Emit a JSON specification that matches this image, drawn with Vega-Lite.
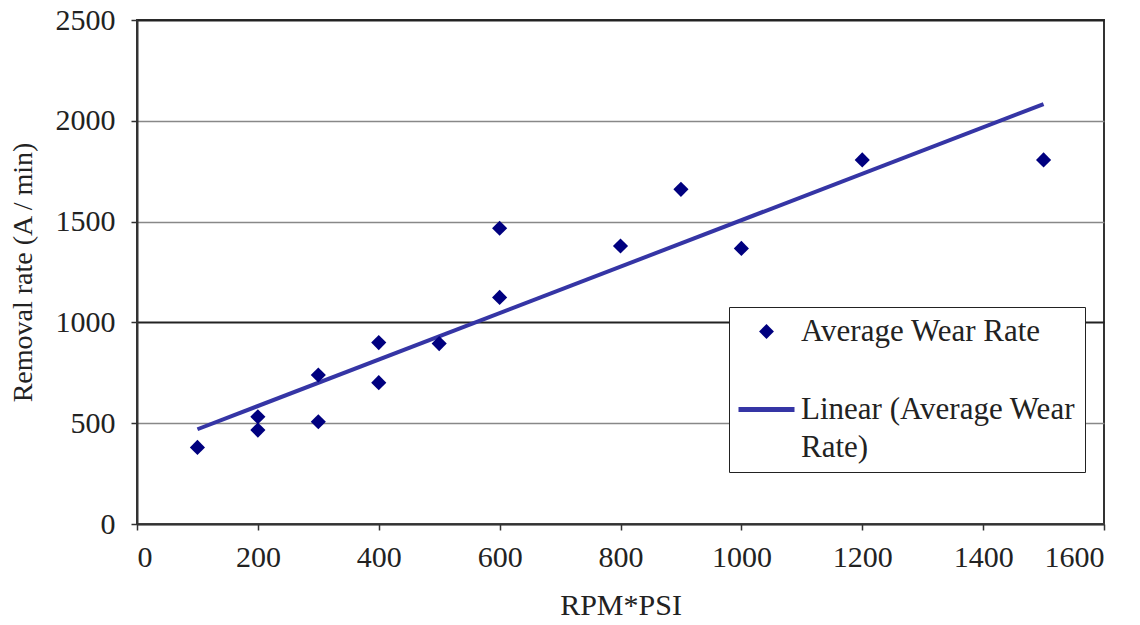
{
  "$schema": "https://vega.github.io/schema/vega-lite/v6.json",
  "width": 967,
  "height": 504,
  "autosize": {"type": "none"},
  "padding": {"left": 137, "top": 20, "right": 36, "bottom": 101},
  "background": "white",
  "config": {
    "view": {"stroke": "#333333", "strokeWidth": 2},
    "font": "Liberation Serif"
  },
  "data": {
    "values": [
      {"rpmpsi": 100, "rate": 380, "series": "Average Wear Rate"},
      {"rpmpsi": 200, "rate": 532, "series": "Average Wear Rate"},
      {"rpmpsi": 200, "rate": 466, "series": "Average Wear Rate"},
      {"rpmpsi": 300, "rate": 739, "series": "Average Wear Rate"},
      {"rpmpsi": 300, "rate": 507, "series": "Average Wear Rate"},
      {"rpmpsi": 400, "rate": 900, "series": "Average Wear Rate"},
      {"rpmpsi": 400, "rate": 701, "series": "Average Wear Rate"},
      {"rpmpsi": 500, "rate": 895, "series": "Average Wear Rate"},
      {"rpmpsi": 600, "rate": 1467, "series": "Average Wear Rate"},
      {"rpmpsi": 600, "rate": 1124, "series": "Average Wear Rate"},
      {"rpmpsi": 800, "rate": 1379, "series": "Average Wear Rate"},
      {"rpmpsi": 900, "rate": 1660, "series": "Average Wear Rate"},
      {"rpmpsi": 1000, "rate": 1367, "series": "Average Wear Rate"},
      {"rpmpsi": 1200, "rate": 1806, "series": "Average Wear Rate"},
      {"rpmpsi": 1500, "rate": 1806, "series": "Average Wear Rate"},
      {"rpmpsi": 100, "rate": 470, "series": "Linear (Average Wear Rate)"},
      {"rpmpsi": 1500, "rate": 2083, "series": "Linear (Average Wear Rate)"}
    ]
  },
  "encoding": {
    "x": {
      "field": "rpmpsi",
      "type": "quantitative",
      "scale": {"domain": [0, 1600], "nice": false},
      "axis": {
        "title": "RPM*PSI",
        "format": "d",
        "values": [0, 200, 400, 600, 800, 1000, 1200, 1400, 1600],
        "grid": false,
        "domainColor": "#333333",
        "domainWidth": 2,
        "tickColor": "#333333",
        "tickWidth": 1.5,
        "tickSize": 6,
        "labelFont": "Liberation Serif",
        "labelFontSize": 30,
        "labelColor": "#222222",
        "labelPadding": 12,
        "titleFont": "Liberation Serif",
        "titleFontSize": 30,
        "titleFontWeight": "normal",
        "titleColor": "#222222",
        "titlePadding": 18
      }
    },
    "y": {
      "field": "rate",
      "type": "quantitative",
      "scale": {"domain": [0, 2500], "nice": false},
      "axis": {
        "title": "Removal rate (A / min)",
        "format": "d",
        "values": [0, 500, 1000, 1500, 2000, 2500],
        "grid": true,
        "gridColor": {"condition": {"test": "datum.value == 1000 || datum.value == 2500", "value": "#222222"}, "value": "#888888"},
        "gridWidth": {"condition": {"test": "datum.value == 1000 || datum.value == 2500", "value": 2}, "value": 1.5},
        "domainColor": "#333333",
        "domainWidth": 2,
        "tickColor": "#333333",
        "tickWidth": 1.5,
        "tickSize": 6,
        "labelFont": "Liberation Serif",
        "labelFontSize": 30,
        "labelColor": "#222222",
        "labelPadding": 16,
        "titleFont": "Liberation Serif",
        "titleFontSize": 28,
        "titleFontWeight": "normal",
        "titleColor": "#222222",
        "titlePadding": 18
      }
    },
    "color": {
      "field": "series",
      "type": "nominal",
      "scale": {
        "domain": ["Average Wear Rate", "Linear (Average Wear Rate)"],
        "range": ["#00007f", "#3535a5"]
      },
      "legend": {
        "title": null,
        "orient": "none",
        "legendX": 592,
        "legendY": 287,
        "strokeColor": "#222222",
        "fillColor": "white",
        "padding": 9,
        "rowPadding": 46,
        "symbolSize": 3136,
        "symbolType": "stroke",
        "symbolStrokeWidth": 4,
        "symbolOffset": 13,
        "labelFont": "Liberation Serif",
        "labelFontSize": 31,
        "labelColor": "#222222",
        "labelLimit": 400,
        "labelOffset": 19,
        "labelExpr": "datum.label === 'Linear (Average Wear Rate)' ? ['Linear (Average Wear', 'Rate)'] : datum.label",
        "encode": {
          "labels": {
            "update": {"lineHeight": {"value": 38}}
          },
          "symbols": {
            "update": {
              "shape": {"signal": "datum.value === 'Average Wear Rate' ? 'diamond' : 'stroke'"},
              "size": {"signal": "datum.value === 'Average Wear Rate' ? 220 : 3136"},
              "fill": {"signal": "datum.value === 'Average Wear Rate' ? '#00007f' : 'transparent'"},
              "stroke": {"signal": "datum.value === 'Average Wear Rate' ? '#00007f' : '#3535a5'"},
              "strokeWidth": {"signal": "datum.value === 'Average Wear Rate' ? 0 : 5"},
              "opacity": {"value": 1}
            }
          }
        }
      }
    }
  },
  "layer": [
    {
      "transform": [{"filter": "datum.series === 'Linear (Average Wear Rate)'"}],
      "mark": {"type": "line", "strokeWidth": 4}
    },
    {
      "transform": [{"filter": "datum.series === 'Average Wear Rate'"}],
      "mark": {"type": "point", "shape": "diamond", "filled": true, "size": 230, "opacity": 1}
    }
  ]
}
